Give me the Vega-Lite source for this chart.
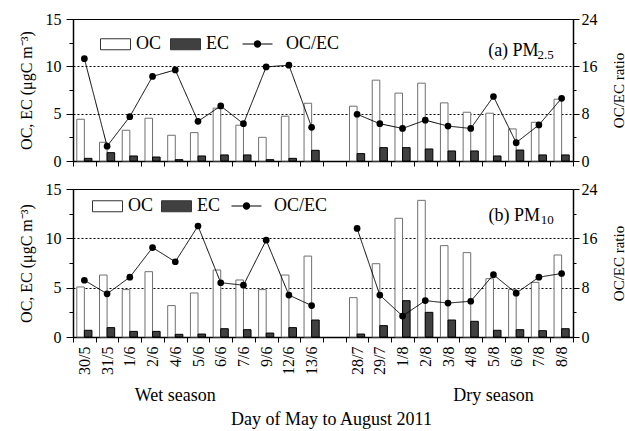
{
  "$schema": "https://vega.github.io/schema/vega-lite/v6.json",
  "background": "white",
  "padding": {"left": 17, "top": 10, "right": 0, "bottom": 0},
  "spacing": 10,
  "datasets": {
    "pm": [
      {"p": "a", "i": 1, "s": "wet", "d": "30/5", "OC": 4.41, "EC": 0.28, "R": 17.3},
      {"p": "a", "i": 2, "s": "wet", "d": "31/5", "OC": 1.98, "EC": 0.88, "R": 2.5},
      {"p": "a", "i": 3, "s": "wet", "d": "1/6", "OC": 3.25, "EC": 0.53, "R": 7.5},
      {"p": "a", "i": 4, "s": "wet", "d": "2/6", "OC": 4.52, "EC": 0.42, "R": 14.3},
      {"p": "a", "i": 5, "s": "wet", "d": "4/6", "OC": 2.72, "EC": 0.14, "R": 15.4},
      {"p": "a", "i": 6, "s": "wet", "d": "5/6", "OC": 3.0, "EC": 0.53, "R": 6.7},
      {"p": "a", "i": 7, "s": "wet", "d": "6/6", "OC": 5.58, "EC": 0.64, "R": 9.3},
      {"p": "a", "i": 8, "s": "wet", "d": "7/6", "OC": 3.78, "EC": 0.64, "R": 6.3},
      {"p": "a", "i": 9, "s": "wet", "d": "9/6", "OC": 2.5, "EC": 0.14, "R": 15.9},
      {"p": "a", "i": 10, "s": "wet", "d": "12/6", "OC": 4.73, "EC": 0.28, "R": 16.2},
      {"p": "a", "i": 11, "s": "wet", "d": "13/6", "OC": 6.1, "EC": 1.13, "R": 5.7},
      {"p": "a", "i": 13, "s": "dry", "d": "28/7", "OC": 5.79, "EC": 0.78, "R": 7.9},
      {"p": "a", "i": 14, "s": "dry", "d": "29/7", "OC": 8.54, "EC": 1.41, "R": 6.3},
      {"p": "a", "i": 15, "s": "dry", "d": "1/8", "OC": 7.17, "EC": 1.41, "R": 5.5},
      {"p": "a", "i": 16, "s": "dry", "d": "2/8", "OC": 8.22, "EC": 1.27, "R": 6.9},
      {"p": "a", "i": 17, "s": "dry", "d": "3/8", "OC": 6.14, "EC": 1.06, "R": 5.9},
      {"p": "a", "i": 18, "s": "dry", "d": "4/8", "OC": 5.15, "EC": 1.06, "R": 5.5},
      {"p": "a", "i": 19, "s": "dry", "d": "5/8", "OC": 5.05, "EC": 0.53, "R": 10.9},
      {"p": "a", "i": 20, "s": "dry", "d": "6/8", "OC": 3.39, "EC": 1.16, "R": 3.1},
      {"p": "a", "i": 21, "s": "dry", "d": "7/8", "OC": 4.09, "EC": 0.64, "R": 6.1},
      {"p": "a", "i": 22, "s": "dry", "d": "8/8", "OC": 6.53, "EC": 0.64, "R": 10.6},
      {"p": "b", "i": 1, "s": "wet", "d": "30/5", "OC": 5.07, "EC": 0.68, "R": 9.2},
      {"p": "b", "i": 2, "s": "wet", "d": "31/5", "OC": 6.28, "EC": 0.95, "R": 7.0},
      {"p": "b", "i": 3, "s": "wet", "d": "1/6", "OC": 4.8, "EC": 0.57, "R": 9.7},
      {"p": "b", "i": 4, "s": "wet", "d": "2/6", "OC": 6.62, "EC": 0.57, "R": 14.5},
      {"p": "b", "i": 5, "s": "wet", "d": "4/6", "OC": 3.18, "EC": 0.27, "R": 12.2},
      {"p": "b", "i": 6, "s": "wet", "d": "5/6", "OC": 4.46, "EC": 0.3, "R": 18.0},
      {"p": "b", "i": 7, "s": "wet", "d": "6/6", "OC": 6.79, "EC": 0.84, "R": 8.8},
      {"p": "b", "i": 8, "s": "wet", "d": "7/6", "OC": 5.78, "EC": 0.74, "R": 8.4},
      {"p": "b", "i": 9, "s": "wet", "d": "9/6", "OC": 4.8, "EC": 0.4, "R": 15.7},
      {"p": "b", "i": 10, "s": "wet", "d": "12/6", "OC": 6.28, "EC": 0.95, "R": 6.8},
      {"p": "b", "i": 11, "s": "wet", "d": "13/6", "OC": 8.2, "EC": 1.72, "R": 5.1},
      {"p": "b", "i": 13, "s": "dry", "d": "28/7", "OC": 3.99, "EC": 0.3, "R": 17.6},
      {"p": "b", "i": 14, "s": "dry", "d": "29/7", "OC": 7.43, "EC": 1.15, "R": 6.8},
      {"p": "b", "i": 15, "s": "dry", "d": "1/8", "OC": 12.03, "EC": 3.68, "R": 3.4},
      {"p": "b", "i": 16, "s": "dry", "d": "2/8", "OC": 13.85, "EC": 2.5, "R": 5.9},
      {"p": "b", "i": 17, "s": "dry", "d": "3/8", "OC": 9.26, "EC": 1.72, "R": 5.5},
      {"p": "b", "i": 18, "s": "dry", "d": "4/8", "OC": 8.55, "EC": 1.59, "R": 5.8},
      {"p": "b", "i": 19, "s": "dry", "d": "5/8", "OC": 5.91, "EC": 0.68, "R": 10.1},
      {"p": "b", "i": 20, "s": "dry", "d": "6/8", "OC": 4.83, "EC": 0.74, "R": 7.1},
      {"p": "b", "i": 21, "s": "dry", "d": "7/8", "OC": 5.54, "EC": 0.64, "R": 9.7},
      {"p": "b", "i": 22, "s": "dry", "d": "8/8", "OC": 8.31, "EC": 0.84, "R": 10.3}
    ],
    "notes": [
      {"p": "a", "d": "8/8", "y": 11.14, "t": "(a) PM", "sub": "2.5"},
      {"p": "b", "d": "8/8", "y": 11.75, "t": "(b) PM", "sub": "10"}
    ],
    "seasons": [
      {"d": "4/6", "y": -6, "t": "Wet season"},
      {"d": "5/8", "y": -6, "t": "Dry season"}
    ]
  },
  "resolve": {
    "scale": {"fill": "independent", "strokeDash": "independent"},
    "legend": {"fill": "independent", "strokeDash": "independent"}
  },
  "vconcat": [
    {
      "width": 500,
      "height": 142,
      "resolve": {"scale": {"y": "independent"}},
      "layer": [
        {
          "data": {"name": "pm"},
          "transform": [{"filter": "datum.p == 'a'"}, {"fold": ["OC", "EC"], "as": ["species", "conc"]}],
          "mark": {"type": "bar", "strokeWidth": 1},
          "encoding": {
            "x": {"field": "d", "type": "nominal",
              "scale": {"domain": ["30/5","31/5","1/6","2/6","4/6","5/6","6/6","7/6","9/6","12/6","13/6","gap","28/7","29/7","1/8","2/8","3/8","4/8","5/8","6/8","7/8","8/8"], "paddingInner": 0, "paddingOuter": 0},
              "axis": {"labels": false, "title": null, "tickBand": "extent", "tickSize": 5, "grid": false}},
            "xOffset": {"field": "species", "scale": {"domain": ["OC", "EC"], "paddingInner": 0, "paddingOuter": 0.5}},
            "y": {"field": "conc", "type": "quantitative", "scale": {"domain": [0, 15], "nice": false},
              "axis": {"orient": "left", "values": [0, 2.5, 5, 7.5, 10, 12.5, 15],
                "labelExpr": "datum.value % 5 == 0 ? format(datum.value, 'd') : ''",
                "tickSize": {"condition": {"test": "datum.value % 5 == 0", "value": 7}, "value": 4},
                "labelPadding": 5,
                "grid": true, "gridDash": [2, 2], "gridColor": "black", "gridWidth": 1,
                "gridOpacity": {"condition": {"test": "datum.value == 5 || datum.value == 10", "value": 1}, "value": 0},
                "title": "OC, EC (μgC m⁻³)", "titlePadding": 11}},
            "fill": {"field": "species", "type": "nominal",
              "scale": {"domain": ["OC", "EC"], "range": ["white", "#404040"]},
              "legend": {"title": null, "orient": "none", "legendX": 32, "legendY": 14.5, "direction": "horizontal",
                "symbolType": "M-1.5,-0.55H1.5V0.55H-1.5Z",
                "symbolSize": 400, "symbolStrokeWidth": 1, "symbolStrokeColor": "#333333",
                "labelFontSize": 18, "labelOffset": 10, "columnPadding": 6, "padding": 0}},
            "stroke": {"condition": {"test": "datum.species == 'OC'", "value": "#707070"}, "value": "black"}
          }
        },
        {
          "data": {"name": "pm"},
          "transform": [{"filter": "datum.p == 'a'"}],
          "mark": {"type": "line", "color": "black", "strokeWidth": 1, "point": {"filled": true, "size": 45, "color": "black"}},
          "encoding": {
            "x": {"field": "d", "type": "nominal"},
            "y": {"field": "R", "type": "quantitative", "scale": {"domain": [0, 24], "nice": false},
              "axis": {"orient": "right", "values": [0, 4, 8, 12, 16, 20, 24],
                "labelExpr": "datum.value % 8 == 0 ? format(datum.value, 'd') : ''",
                "tickSize": {"condition": {"test": "datum.value % 8 == 0", "value": 6}, "value": 3},
                "labelPadding": 2, "grid": false,
                "title": "OC/EC ratio", "titleAngle": 270, "titleBaseline": "top", "titleFontSize": 15, "titlePadding": 14}},
            "strokeDash": {"datum": "OC/EC", "type": "nominal",
              "scale": {"domain": ["OC/EC"], "range": [[1, 0]]},
              "legend": {"title": null, "orient": "none", "legendX": 174, "legendY": 14.5,
                "symbolType": "M-1.5,-0.05H1.5V0.05H-1.5ZM0.37,0A0.37,0.37,0,1,1,-0.37,0A0.37,0.37,0,1,1,0.37,0Z",
                "symbolSize": 400, "symbolStrokeWidth": 1, "symbolStrokeColor": "black", "symbolFillColor": "black",
                "labelFontSize": 18, "labelOffset": 18, "padding": 0}},
            "detail": {"field": "s"},
            "order": {"field": "i"}
          }
        },
        {
          "data": {"name": "notes"},
          "transform": [{"filter": "datum.p == 'a'"}],
          "mark": {"type": "text", "align": "right", "baseline": "alphabetic", "fontSize": 18, "dx": -23},
          "encoding": {
            "x": {"field": "d", "type": "nominal"},
            "y": {"field": "y", "type": "quantitative", "scale": {"domain": [0, 15], "nice": false}, "axis": null},
            "text": {"field": "t"}
          }
        },
        {
          "data": {"name": "notes"},
          "transform": [{"filter": "datum.p == 'a'"}],
          "mark": {"type": "text", "align": "right", "baseline": "alphabetic", "fontSize": 13, "dx": -8, "dy": 3.3},
          "encoding": {
            "x": {"field": "d", "type": "nominal"},
            "y": {"field": "y", "type": "quantitative", "scale": {"domain": [0, 15], "nice": false}, "axis": null},
            "text": {"field": "sub"}
          }
        }
      ]
    },
    {
      "width": 500,
      "height": 148,
      "resolve": {"scale": {"y": "independent"}},
      "layer": [
        {
          "data": {"name": "pm"},
          "transform": [{"filter": "datum.p == 'b'"}, {"fold": ["OC", "EC"], "as": ["species", "conc"]}],
          "mark": {"type": "bar", "strokeWidth": 1},
          "encoding": {
            "x": {"field": "d", "type": "nominal",
              "scale": {"domain": ["30/5","31/5","1/6","2/6","4/6","5/6","6/6","7/6","9/6","12/6","13/6","gap","28/7","29/7","1/8","2/8","3/8","4/8","5/8","6/8","7/8","8/8"], "paddingInner": 0, "paddingOuter": 0},
              "axis": {"labelAngle": 270, "labelExpr": "datum.value == 'gap' ? '' : datum.value", "tickBand": "extent", "tickSize": 5, "labelPadding": 4, "grid": false,
                "title": "Day of May to August 2011", "titleFontSize": 18, "titlePadding": 36, "titleX": 258}},
            "xOffset": {"field": "species", "scale": {"domain": ["OC", "EC"], "paddingInner": 0, "paddingOuter": 0.5}},
            "y": {"field": "conc", "type": "quantitative", "scale": {"domain": [0, 15], "nice": false},
              "axis": {"orient": "left", "values": [0, 2.5, 5, 7.5, 10, 12.5, 15],
                "labelExpr": "datum.value % 5 == 0 ? format(datum.value, 'd') : ''",
                "tickSize": {"condition": {"test": "datum.value % 5 == 0", "value": 7}, "value": 4},
                "labelPadding": 5,
                "grid": true, "gridDash": [2, 2], "gridColor": "black", "gridWidth": 1,
                "gridOpacity": {"condition": {"test": "datum.value == 5 || datum.value == 10", "value": 1}, "value": 0},
                "title": "OC, EC (μgC m⁻³)", "titlePadding": 11}},
            "fill": {"field": "species", "type": "nominal",
              "scale": {"domain": ["OC", "EC"], "range": ["white", "#404040"]},
              "legend": {"title": null, "orient": "none", "legendX": 24, "legendY": 6.5, "direction": "horizontal",
                "symbolType": "M-1.5,-0.55H1.5V0.55H-1.5Z",
                "symbolSize": 400, "symbolStrokeWidth": 1, "symbolStrokeColor": "#333333",
                "labelFontSize": 18, "labelOffset": 10, "columnPadding": 5, "padding": 0}},
            "stroke": {"condition": {"test": "datum.species == 'OC'", "value": "#707070"}, "value": "black"}
          }
        },
        {
          "data": {"name": "pm"},
          "transform": [{"filter": "datum.p == 'b'"}],
          "mark": {"type": "line", "color": "black", "strokeWidth": 1, "point": {"filled": true, "size": 45, "color": "black"}},
          "encoding": {
            "x": {"field": "d", "type": "nominal"},
            "y": {"field": "R", "type": "quantitative", "scale": {"domain": [0, 24], "nice": false},
              "axis": {"orient": "right", "values": [0, 4, 8, 12, 16, 20, 24],
                "labelExpr": "datum.value % 8 == 0 ? format(datum.value, 'd') : ''",
                "tickSize": {"condition": {"test": "datum.value % 8 == 0", "value": 6}, "value": 3},
                "labelPadding": 2, "grid": false,
                "title": "OC/EC ratio", "titleAngle": 270, "titleBaseline": "top", "titleFontSize": 15, "titlePadding": 14}},
            "strokeDash": {"datum": "OC/EC", "type": "nominal",
              "scale": {"domain": ["OC/EC"], "range": [[1, 0]]},
              "legend": {"title": null, "orient": "none", "legendX": 163, "legendY": 6.5,
                "symbolType": "M-1.5,-0.05H1.5V0.05H-1.5ZM0.37,0A0.37,0.37,0,1,1,-0.37,0A0.37,0.37,0,1,1,0.37,0Z",
                "symbolSize": 400, "symbolStrokeWidth": 1, "symbolStrokeColor": "black", "symbolFillColor": "black",
                "labelFontSize": 18, "labelOffset": 17, "padding": 0}},
            "detail": {"field": "s"},
            "order": {"field": "i"}
          }
        },
        {
          "data": {"name": "notes"},
          "transform": [{"filter": "datum.p == 'b'"}],
          "mark": {"type": "text", "align": "right", "baseline": "alphabetic", "fontSize": 18, "dx": -21.5},
          "encoding": {
            "x": {"field": "d", "type": "nominal"},
            "y": {"field": "y", "type": "quantitative", "scale": {"domain": [0, 15], "nice": false}, "axis": null},
            "text": {"field": "t"}
          }
        },
        {
          "data": {"name": "notes"},
          "transform": [{"filter": "datum.p == 'b'"}],
          "mark": {"type": "text", "align": "right", "baseline": "alphabetic", "fontSize": 13, "dx": -8, "dy": 3.3},
          "encoding": {
            "x": {"field": "d", "type": "nominal"},
            "y": {"field": "y", "type": "quantitative", "scale": {"domain": [0, 15], "nice": false}, "axis": null},
            "text": {"field": "sub"}
          }
        },
        {
          "data": {"name": "seasons"},
          "mark": {"type": "text", "align": "center", "baseline": "middle", "fontSize": 18},
          "encoding": {
            "x": {"field": "d", "type": "nominal"},
            "y": {"field": "y", "type": "quantitative", "scale": {"domain": [0, 15], "nice": false}, "axis": null},
            "text": {"field": "t"}
          }
        }
      ]
    }
  ],
  "config": {
    "font": "Liberation Serif",
    "view": {"stroke": "black", "strokeWidth": 1},
    "axis": {
      "labelFont": "Liberation Serif", "titleFont": "Liberation Serif",
      "labelFontSize": 16, "titleFontSize": 16, "titleFontWeight": "normal",
      "labelColor": "black", "titleColor": "black",
      "domainColor": "black", "domainWidth": 1.5, "tickColor": "black", "tickWidth": 1
    },
    "legend": {"labelFont": "Liberation Serif", "labelColor": "black"},
    "text": {"font": "Liberation Serif", "color": "black"}
  }
}
